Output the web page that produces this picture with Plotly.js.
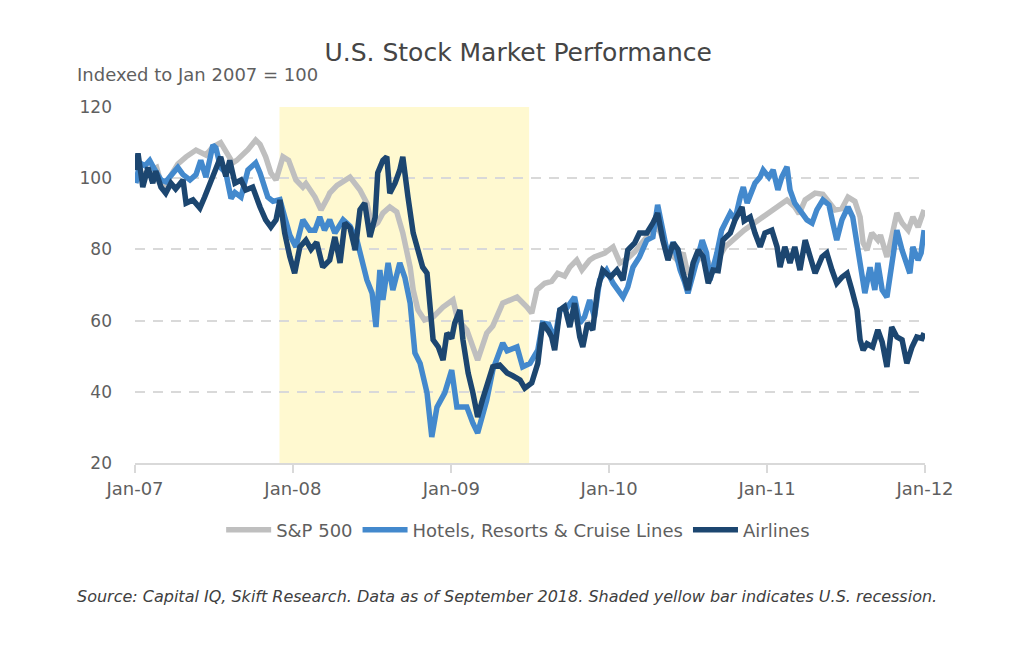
<!DOCTYPE html>
<html>
<head>
<meta charset="utf-8">
<script src="https://cdn.plot.ly/plotly-3.0.1.min.js"></script>
<style>html,body{margin:0;padding:0;background:#fff;}#chart{width:1024px;height:668px;}</style>
</head>
<body>
<div id="chart"></div>
<script>
// ---- Data ----
const seriesNames = ["S&P 500", "Hotels, Resorts & Cruise Lines", "Airlines"];
const seriesColors = ["#BFBFBF", "#4389CD", "#1C4670"];

const spDates = ["2007-01-03","2007-01-24","2007-02-20","2007-03-06","2007-03-22","2007-04-10","2007-04-29","2007-05-22","2007-06-14","2007-06-30","2007-07-18","2007-08-15","2007-08-24","2007-09-19","2007-10-07","2007-10-17","2007-10-30","2007-11-11","2007-11-23","2007-12-09","2007-12-22",
"2008-01-08","2008-01-24","2008-01-31","2008-02-21","2008-03-06","2008-03-22","2008-03-26","2008-04-12","2008-05-12","2008-06-04","2008-06-20","2008-07-02","2008-07-15","2008-07-27","2008-08-12","2008-08-28","2008-09-11","2008-09-28","2008-10-05","2008-10-16","2008-10-31","2008-11-20","2008-12-13",
"2009-01-05","2009-01-16","2009-02-06","2009-02-20","2009-03-03","2009-03-24","2009-04-07","2009-04-30","2009-06-02","2009-06-25","2009-07-06","2009-07-18","2009-08-05","2009-08-21","2009-09-04","2009-09-20","2009-10-02","2009-10-18","2009-10-30","2009-11-17","2009-11-28","2009-12-22",
"2010-01-10","2010-01-26","2010-02-13","2010-03-01","2010-03-29","2010-04-23","2010-05-17","2010-06-07","2010-06-21","2010-07-02","2010-07-26","2010-08-06","2010-08-27","2010-09-14","2010-09-26","2010-11-09","2010-12-11",
"2011-01-12","2011-02-16","2011-03-06","2011-03-16","2011-03-30","2011-04-22","2011-05-10","2011-06-07","2011-06-23","2011-07-07","2011-07-23","2011-08-04","2011-08-11","2011-08-20","2011-08-31","2011-09-14","2011-09-20","2011-10-05","2011-10-16","2011-10-28","2011-11-09","2011-11-23","2011-12-04","2011-12-16","2011-12-30"];
const spValues = [100,101.5,103,97,100,104,106,107.9,106.5,108.8,110,104.3,105,108,110.7,109.5,106,101.5,99.5,106,105,
99.5,97.5,98.5,94.7,91.1,94.7,95.8,98,100.3,96.7,93,86.3,87.5,90.2,91.9,90.5,84.6,75,68.6,63,60.2,61,63.8,
65.8,60.2,57.4,52.6,48.9,56.5,58.5,64.9,66.6,63.8,62.1,68.6,70.5,71,73.3,72.5,75,77,74.2,77,77.9,79,
80.7,76.2,77.5,79.3,83.5,86.5,79.5,77,79,73,77.5,79,74.5,78.5,80.7,85.4,88.3,
91.1,93.9,91.9,90,93.9,95.8,95.5,91.1,91.5,94.7,93.5,89.1,81.8,79.8,84.6,82.6,84,77.9,83.5,90.2,87.4,85.4,89.1,86.3,91.1];

const hotelDates = ["2007-01-03","2007-01-12","2007-01-24","2007-02-04","2007-02-15","2007-03-02","2007-03-13","2007-03-29","2007-04-10","2007-04-22","2007-05-08","2007-05-22","2007-06-02","2007-06-14","2007-06-30","2007-07-07","2007-07-18","2007-07-30","2007-08-11","2007-08-20","2007-09-03","2007-09-19","2007-10-07","2007-10-17","2007-11-04","2007-11-16","2007-12-02","2007-12-13","2007-12-25",
"2008-01-08","2008-01-24","2008-02-09","2008-02-21","2008-03-03","2008-03-14","2008-03-26","2008-04-07","2008-04-26","2008-05-12","2008-05-28","2008-06-09","2008-06-20","2008-07-02","2008-07-11","2008-07-20","2008-07-27","2008-08-08","2008-08-19","2008-09-04","2008-09-16","2008-09-28","2008-10-09","2008-10-21","2008-11-06","2008-11-17","2008-11-29","2008-12-17",
"2009-01-02","2009-01-14","2009-02-06","2009-02-20","2009-03-03","2009-03-24","2009-04-07","2009-04-30","2009-05-10","2009-06-02","2009-06-15","2009-07-02","2009-07-20","2009-07-31","2009-08-14","2009-08-28","2009-09-09","2009-09-25","2009-10-13","2009-10-25","2009-11-05","2009-11-17","2009-11-28","2009-12-10","2009-12-26",
"2010-01-10","2010-01-21","2010-02-02","2010-02-13","2010-02-25","2010-03-12","2010-03-29","2010-04-12","2010-04-23","2010-05-05","2010-05-17","2010-05-29","2010-06-14","2010-06-24","2010-07-02","2010-07-14","2010-08-04","2010-08-14","2010-08-22","2010-09-07","2010-09-18","2010-10-08","2010-10-19","2010-10-31","2010-11-07","2010-11-16","2010-12-04","2010-12-16","2010-12-23",
"2011-01-05","2011-01-15","2011-01-26","2011-02-04","2011-02-16","2011-02-23","2011-03-06","2011-03-23","2011-04-03","2011-04-15","2011-04-26","2011-05-10","2011-05-24","2011-06-02","2011-06-11","2011-06-23","2011-07-07","2011-07-18","2011-07-30","2011-08-08","2011-08-15","2011-08-27","2011-09-07","2011-09-14","2011-09-24","2011-10-05","2011-10-16","2011-10-28","2011-11-09","2011-11-20","2011-11-27","2011-12-04","2011-12-16","2011-12-23","2011-12-30"];
const hotelValues = [98.6,104.3,103.5,105,102.5,99.5,99,101.5,103,101,99.5,101,105,100.3,109.3,108.5,103,101.5,94.3,96,94.7,102.3,104.3,101.5,94.7,93.5,94,89.1,84,
80.7,88.3,85.4,85.4,89.1,85.4,88.3,84.6,88.3,86.5,82.6,76.2,71.4,67.7,58.2,74.2,65.8,76.2,68.6,76.2,72,64.9,50.9,48,39.7,27.3,35.7,39.7,
46.1,35.7,35.7,31.2,28.4,37.7,46.1,53.7,51.5,52.6,47,48,51.7,59.3,59,54.6,63,63.5,66.6,59.3,61,65.8,61,71.4,74.2,
70.5,68.6,66.6,69.4,75,77.9,82.6,83.5,92.5,85.4,78,82,74.2,71,67.7,73,82.6,79,71.4,79,85.4,90.2,88.5,94.7,97.5,93,98.6,100.3,102.3,
100.3,102.3,96.7,100.3,103.2,96.7,93,90.2,88.3,87.4,91.1,93.9,92.5,87.4,82.6,88.3,91.9,89.1,80.7,72.2,67.7,75,68.6,76.2,68.6,66.6,77,85.4,79.8,75,73.3,80.7,77,79,85.4];

const airDates = ["2007-01-03","2007-01-08","2007-01-19","2007-01-31","2007-02-11","2007-02-18","2007-03-02","2007-03-13","2007-03-25","2007-04-05","2007-04-22","2007-04-29","2007-05-15","2007-05-31","2007-06-11","2007-06-23","2007-07-07","2007-07-18","2007-07-30","2007-08-08","2007-08-20","2007-09-03","2007-09-14","2007-09-30","2007-10-17","2007-10-30","2007-11-11","2007-11-23","2007-12-02","2007-12-13","2007-12-25",
"2008-01-05","2008-01-17","2008-01-31","2008-02-12","2008-02-25","2008-03-10","2008-03-26","2008-04-07","2008-04-19","2008-04-30","2008-05-12","2008-05-24","2008-06-04","2008-06-15","2008-06-27","2008-07-09","2008-07-15","2008-07-27","2008-08-05","2008-08-12","2008-08-24","2008-09-04","2008-09-11","2008-09-23","2008-10-05","2008-10-16","2008-10-27","2008-11-06","2008-11-13","2008-11-20","2008-12-02","2008-12-13","2008-12-22",
"2009-01-02","2009-01-09","2009-01-21","2009-01-28","2009-02-09","2009-02-20","2009-03-03","2009-03-14","2009-03-26","2009-04-07","2009-04-23","2009-05-10","2009-05-23","2009-06-09","2009-06-20","2009-07-06","2009-07-20","2009-07-31","2009-08-14","2009-08-21","2009-08-28","2009-09-09","2009-09-20","2009-10-02","2009-10-13","2009-10-25","2009-11-01","2009-11-12","2009-11-24","2009-12-05","2009-12-17",
"2010-01-04","2010-01-19","2010-02-02","2010-02-13","2010-03-01","2010-03-12","2010-03-29","2010-04-12","2010-04-23","2010-05-05","2010-05-17","2010-05-29","2010-06-09","2010-06-21","2010-07-02","2010-07-14","2010-07-26","2010-08-06","2010-08-18","2010-08-29","2010-09-10","2010-09-21","2010-10-08","2010-10-19","2010-11-04","2010-11-09","2010-11-23","2010-12-04","2010-12-16","2010-12-27",
"2011-01-12","2011-01-24","2011-01-31","2011-02-11","2011-02-23","2011-03-06","2011-03-18","2011-03-30","2011-04-10","2011-04-22","2011-05-08","2011-05-19","2011-05-31","2011-06-11","2011-06-23","2011-07-05","2011-07-16","2011-07-28","2011-08-04","2011-08-11","2011-08-20","2011-09-02","2011-09-14","2011-09-24","2011-10-05","2011-10-16","2011-10-28","2011-11-09","2011-11-20","2011-12-02","2011-12-13","2011-12-25","2011-12-30"];
const airValues = [102.3,107,97.5,103,98.6,102,97.5,95.8,98.6,97,99.5,93,93.9,91.6,94.7,98.6,102.3,106,100.5,105,98.6,99.5,96.7,97.5,91.9,88.3,86.3,88.3,93.9,84.6,77.9,
73.3,80.7,82.6,80,82,75,77,83.5,76.2,87.4,86,79.8,91.1,93,83.5,89,101.5,105,106,95.8,98.6,102.3,106,94.7,84.6,79.8,75,73.3,63.8,54.6,52.6,48.9,56.5,
55,59.3,63,54.6,45.3,39.7,32.9,37.7,42.4,47,47.5,45.3,44.5,43.3,41,42.5,48,59.3,57,55.4,51.7,63,64,58.2,64.9,55.4,52.6,59.3,57.4,68.6,74.2,
72.2,74.2,71.4,79.8,81.8,84.6,84.6,87.4,90.2,82.6,77,81.8,80,73.3,68.6,76.2,79.8,78,70.5,74.2,74,82.6,84.6,88.3,91.9,88,89.1,84.6,80.7,84.6,
85.4,80.7,75,80.7,76.2,80.7,74.2,82.6,77.9,73.3,77.9,79,74.2,70.5,72.2,73.3,68.6,63,54.6,51.7,53.5,52.6,57.4,54,47,58.2,55.4,54.6,48,52.6,55.4,55,56.5];

const recessionStart = "2007-12-01";
const recessionEnd = "2009-06-30";

const xTickStart = "2007-01-01";
const xRange = ["2007-01-01", "2012-01-01"];
const yRange = [20, 120];

const FONT = "DejaVu Sans, Open Sans, sans-serif";
const allDates = [spDates, hotelDates, airDates];
const allValues = [spValues, hotelValues, airValues];

const traces = seriesNames.map((name, i) => ({
  type: "scatter",
  mode: "lines",
  name: name,
  x: allDates[i],
  y: allValues[i],
  line: { color: seriesColors[i], width: 5.5 },
  hoverinfo: "x+y+name"
}));

const layout = {
  width: 1024,
  height: 668,
  margin: { l: 135, r: 99, t: 107, b: 205 },
  paper_bgcolor: "#ffffff",
  plot_bgcolor: "#ffffff",
  font: { family: FONT, color: "#595959" },
  title: {
    text: "U.S. Stock Market Performance",
    x: 0.506, xanchor: "center", xref: "container",
    y: 0.922, yanchor: "middle", yref: "container",
    font: { size: 25, color: "#454545", family: FONT }
  },
  xaxis: {
    type: "date",
    range: xRange,
    tick0: xTickStart,
    dtick: "M12",
    tickformat: "%b-%y",
    ticks: "outside",
    ticklen: 8,
    tickwidth: 2,
    tickcolor: "#D9D9D9",
    showline: true,
    linecolor: "#D9D9D9",
    linewidth: 2,
    showgrid: false,
    zeroline: false,
    tickfont: { size: 18, color: "#5f5f5f", family: FONT }
  },
  yaxis: {
    range: yRange,
    dtick: 20,
    tick0: 20,
    showgrid: true,
    gridcolor: "#D9D9D9",
    gridwidth: 2,
    griddash: "10px,8px",
    zeroline: false,
    showline: false,
    ticks: "",
    ticklabelstandoff: 22,
    tickfont: { size: 17, color: "#5f5f5f", family: FONT }
  },
  shapes: [{
    type: "rect",
    xref: "x", yref: "paper",
    x0: recessionStart, x1: recessionEnd,
    y0: 0, y1: 1,
    fillcolor: "#FFF9D0",
    line: { width: 0 },
    layer: "between"
  }],
  legend: {
    orientation: "h",
    x: 0.485, xanchor: "center",
    y: -0.188, yanchor: "middle",
    font: { size: 18, color: "#5f5f5f", family: FONT },
    itemwidth: 45,
    bgcolor: "rgba(0,0,0,0)"
  },
  annotations: [
    {
      text: "Indexed to Jan 2007 = 100",
      xref: "paper", yref: "paper",
      x: -0.076, xanchor: "left",
      y: 1.09, yanchor: "middle",
      showarrow: false,
      font: { size: 18, color: "#5f5f5f", family: FONT }
    },
    {
      text: "<i>Source: Capital IQ, Skift Research. Data as of September 2018. Shaded yellow bar indicates U.S. recession.</i>",
      xref: "paper", yref: "paper",
      x: -0.076, xanchor: "left",
      y: -0.376, yanchor: "middle",
      showarrow: false,
      font: { size: 16, color: "#404040", family: FONT }
    }
  ],
  showlegend: true
};

Plotly.newPlot("chart", traces, layout, { displayModeBar: false, staticPlot: true });
</script>
</body>
</html>
